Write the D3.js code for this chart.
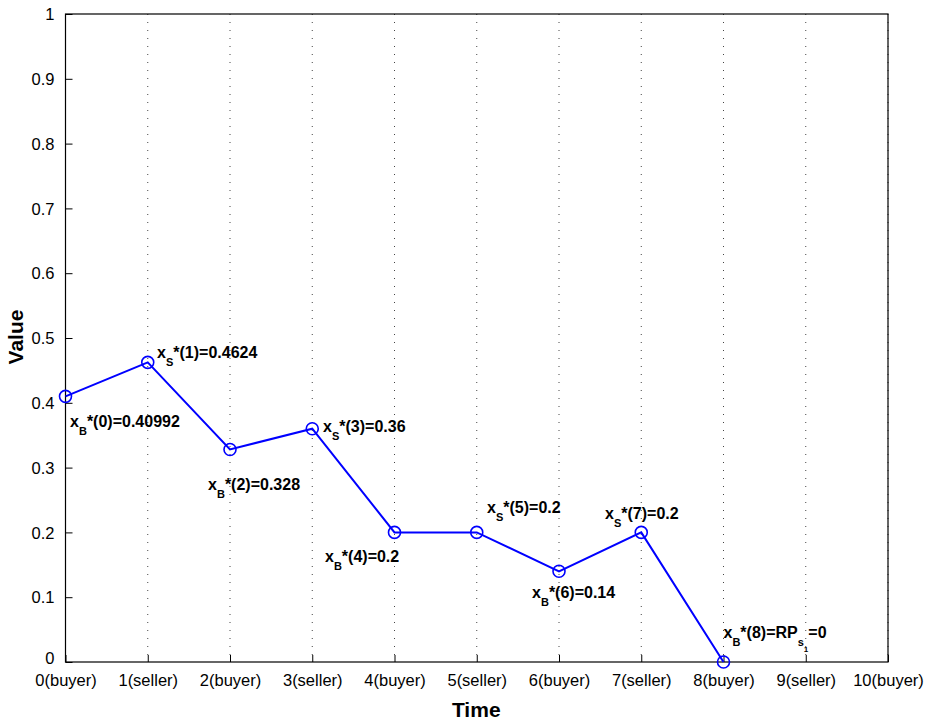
<!DOCTYPE html>
<html>
<head>
<meta charset="utf-8">
<script src="https://cdn.jsdelivr.net/npm/d3@7"></script>
<style>
  body { margin: 0; background: #fff; }
  svg { font-family: "Liberation Sans", Arial, Helvetica, sans-serif; }
</style>
</head>
<body>
<div id="chart"></div>
<script>
// time steps and who offers at each one
var timeSteps = [0, 1, 2, 3, 4, 5, 6, 7, 8, 9, 10];
var timeLabels = ["0(buyer)", "1(seller)", "2(buyer)", "3(seller)", "4(buyer)", "5(seller)",
                  "6(buyer)", "7(seller)", "8(buyer)", "9(seller)", "10(buyer)"];
var yTicks = [0, 0.1, 0.2, 0.3, 0.4, 0.5, 0.6, 0.7, 0.8, 0.9, 1];

// offer values
var offerT = [0, 1, 2, 3, 4, 5, 6, 7, 8];
var offerV = [0.40992, 0.4624, 0.328, 0.36, 0.2, 0.2, 0.14, 0.2, 0];

// annotations (tex-ish), anchored in data units like matlab text()
var noteText = ["x_B*(0)=0.40992", "x_S*(1)=0.4624", "x_B*(2)=0.328", "x_S*(3)=0.36",
                "x_B*(4)=0.2", "x_S*(5)=0.2", "x_B*(6)=0.14", "x_S*(7)=0.2",
                "x_B*(8)=RP_{s_1}=0"];
var noteT = [0.055, 1.113, 1.733, 3.131, 3.155, 5.125, 5.672, 6.56, 8.0];
var noteV = [0.363, 0.469, 0.265, 0.355, 0.154, 0.23, 0.099, 0.221, 0.037];

(function() {
  var W = 934, H = 724;
  var mLeft = 65.5, mRight = 888, mTop = 14, mBottom = 662;

  var svg = d3.select("#chart").append("svg")
    .attr("width", W)
    .attr("height", H);

  var x = d3.scaleLinear().domain([0, 10]).range([mLeft, mRight]);
  var y = d3.scaleLinear().domain([0, 1]).range([mBottom, mTop]);

  // vertical dotted grid
  svg.append("g").selectAll("line")
    .data(timeSteps.slice(1))
    .enter().append("line")
    .attr("x1", d => x(d)).attr("x2", d => x(d))
    .attr("y1", mTop).attr("y2", mBottom)
    .attr("stroke", "#444")
    .attr("stroke-width", 1)
    .attr("stroke-dasharray", "1,7");

  // axes, ticks drawn inward
  var xAxis = d3.axisBottom(x)
    .tickValues(timeSteps)
    .tickSizeInner(-7).tickSizeOuter(0)
    .tickPadding(13)
    .tickFormat((d, i) => timeLabels[i]);
  var gx = svg.append("g").attr("transform", "translate(0," + mBottom + ")").call(xAxis);

  var yAxis = d3.axisLeft(y)
    .tickValues(yTicks)
    .tickSizeInner(-7).tickSizeOuter(0)
    .tickPadding(13)
    .tickFormat(d3.format("~g"));
  var gy = svg.append("g").attr("transform", "translate(" + mLeft + ",0)").call(yAxis);

  [gx, gy].forEach(function(g) {
    g.select(".domain").remove();
    g.selectAll(".tick line").attr("stroke", "#000").attr("stroke-width", 1);
    g.selectAll(".tick text").attr("font-size", 16.5).attr("fill", "#000")
      .attr("font-family", "Liberation Sans, Arial, sans-serif");
  });
  gx.selectAll(".tick text").attr("dy", "0.65em");
  gy.selectAll(".tick text").attr("dx", 2).attr("dy", "0.35em");
  // the 0 tick label sits a bit high in the original
  gy.selectAll(".tick text").filter(d => d === 0).attr("dy", "0.1em");

  // box
  svg.append("rect")
    .attr("x", mLeft).attr("y", mTop)
    .attr("width", mRight - mLeft).attr("height", mBottom - mTop)
    .attr("fill", "none")
    .attr("stroke", "#000")
    .attr("stroke-width", 1.2);

  // line + circle markers
  var line = d3.line()
    .x((d, i) => x(offerT[i]))
    .y(d => y(d));

  svg.append("path")
    .attr("d", line(offerV))
    .attr("fill", "none")
    .attr("stroke", "#0000ff")
    .attr("stroke-width", 2);

  svg.append("g").selectAll("circle")
    .data(offerV)
    .enter().append("circle")
    .attr("cx", (d, i) => x(offerT[i]))
    .attr("cy", d => y(d))
    .attr("r", 6)
    .attr("fill", "none")
    .attr("stroke", "#0000ff")
    .attr("stroke-width", 1.6);

  // tiny tex subscript parser
  function parseTex(s, lvl) {
    var out = [], i = 0, buf = "";
    while (i < s.length) {
      var c = s[i];
      if (c === "_") {
        if (buf) { out.push({t: buf, lvl: lvl}); buf = ""; }
        var sub;
        if (s[i + 1] === "{") {
          var depth = 1, j = i + 2;
          while (depth) {
            if (s[j] === "{") depth++;
            else if (s[j] === "}") depth--;
            j++;
          }
          sub = s.slice(i + 2, j - 1);
          i = j;
        } else {
          sub = s[i + 1];
          i += 2;
        }
        out = out.concat(parseTex(sub, lvl + 1));
      } else {
        buf += c;
        i++;
      }
    }
    if (buf) out.push({t: buf, lvl: lvl});
    return out;
  }

  var subSize = [16, 11, 8];
  var subShift = [0, 8, 14];

  noteText.forEach(function(s, k) {
    var t = svg.append("text")
      .attr("x", x(noteT[k]))
      .attr("y", y(noteV[k]))
      .attr("font-weight", "bold")
      .attr("fill", "#000");
    var prev = 0;
    parseTex(s, 0).forEach(function(seg) {
      t.append("tspan")
        .attr("font-size", subSize[seg.lvl])
        .attr("dy", subShift[seg.lvl] - subShift[prev])
        .text(seg.t);
      prev = seg.lvl;
    });
  });

  // axis titles
  svg.append("text")
    .attr("x", (mLeft + mRight) / 2 - 0.5)
    .attr("y", 717)
    .attr("text-anchor", "middle")
    .attr("font-size", 21)
    .attr("font-weight", "bold")
    .text("Time");

  svg.append("text")
    .attr("transform", "translate(23,337) rotate(-90)")
    .attr("text-anchor", "middle")
    .attr("font-size", 21)
    .attr("font-weight", "bold")
    .text("Value");
})();
</script>
</body>
</html>
